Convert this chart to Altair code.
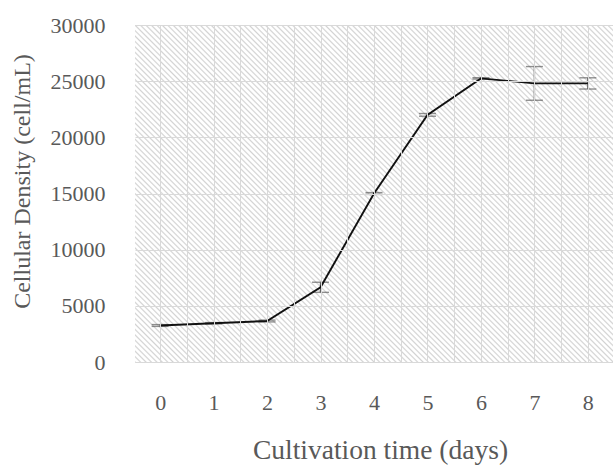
import altair as alt
import pandas as pd

# ---- data ----
days = [0, 1, 2, 3, 4, 5, 6, 7, 8]
density = [3250, 3450, 3650, 6650, 15000, 22000, 25250, 24800, 24800]
errors = [80, 60, 80, 450, 80, 120, 60, 1500, 500]

x_grid_values = [0, 0.5, 1, 1.5, 2, 2.5, 3, 3.5, 4, 4.5, 5, 5.5, 6, 6.5, 7, 7.5, 8]
y_tick_values = [0, 5000, 10000, 15000, 20000, 25000, 30000]

df = pd.DataFrame({"day": days, "density": density, "err": errors})

FONT = "Liberation Serif"
GREY_TXT = "#595959"
GRID = "#d9d9d9"

W, H = 478, 337

# diagonal hatch for the plot background, made with a striped linear gradient
r = W / H
k = (r + 1) / (r * r + 1)
N = 150
HATCH = "#d2d2d2"
stops = []
for i in range(N):
    stops.append(alt.GradientStop(offset=i / N, color=HATCH))
    stops.append(alt.GradientStop(offset=(i + 0.3) / N, color="#ffffff"))
    stops.append(alt.GradientStop(offset=(i + 0.7) / N, color="#ffffff"))
stops.append(alt.GradientStop(offset=1, color=HATCH))
hatch = alt.LinearGradient(gradient="linear", stops=stops, x1=0, y1=1, x2=k * r, y2=1 - k)

x_scale = alt.Scale(domain=[-0.47, 8.47], nice=False, zero=False)
y_scale = alt.Scale(domain=[0, 30000], nice=False)

x_axis = alt.Axis(
    values=x_grid_values,
    labelExpr="datum.value % 1 === 0 ? format(datum.value, 'd') : ''",
    grid=True, gridColor=GRID, gridWidth=1,
    ticks=False, domain=False, zindex=1,
    labelFont=FONT, labelFontSize=22, labelColor=GREY_TXT, labelPadding=30,
    labelFlush=False, labelOverlap=False,
    title="Cultivation time (days)", titleFont=FONT, titleFontSize=27.5,
    titleColor=GREY_TXT, titleFontWeight="normal", titlePadding=23, titleX=245,
)
y_axis = alt.Axis(
    values=y_tick_values, format="d",
    grid=True, gridColor=GRID, gridWidth=1,
    ticks=False, domain=False, zindex=1,
    labelFont=FONT, labelFontSize=22, labelColor=GREY_TXT, labelPadding=30,
    title="Cellular Density (cell/mL)", titleFont=FONT, titleFontSize=24,
    titleColor=GREY_TXT, titleFontWeight="normal", titlePadding=16, titleY=156,
)

background = alt.Chart(pd.DataFrame({"bg": [0]})).mark_rect(fill=hatch, stroke=None).encode(
    x=alt.value(0), x2=alt.value(W), y=alt.value(0), y2=alt.value(H)
)

base = alt.Chart(df)

err = base.transform_calculate(
    lo="datum.density - datum.err", hi="datum.density + datum.err"
).mark_errorbar(ticks=True, size=17, thickness=1.4, color="#606060").encode(
    x=alt.X("day:Q", scale=x_scale, axis=x_axis, title="Cultivation time (days)"),
    y=alt.Y("lo:Q", scale=y_scale, axis=y_axis, title="Cellular Density (cell/mL)"),
    y2="hi:Q",
)

line = base.mark_line(color="#111111", strokeWidth=1.9).encode(
    x=alt.X("day:Q", scale=x_scale, axis=x_axis, title="Cultivation time (days)"),
    y=alt.Y("density:Q", scale=y_scale, axis=y_axis, title="Cellular Density (cell/mL)"),
)

chart = alt.layer(background, err, line).properties(
    width=W, height=H,
    autosize=alt.AutoSizeParams(type="none"),
    padding={"left": 135, "top": 25, "right": 0, "bottom": 103},
    background="white",
).configure_view(stroke=GRID, strokeWidth=1)

chart.save("out.html", embed_options={"renderer": "svg", "actions": False})
